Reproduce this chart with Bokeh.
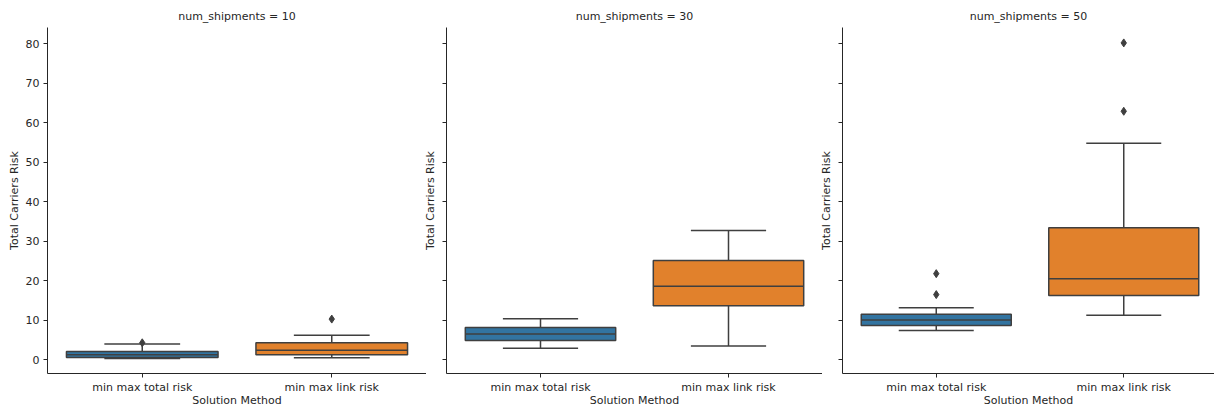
from bokeh.plotting import figure
from bokeh.layouts import row
from bokeh.models import Range1d, FixedTicker, ColumnDataSource, CustomLabelingPolicy
from bokeh.embed import file_html
from bokeh.resources import INLINE

# ---- data ----
methods = ["min max total risk", "min max link risk"]
shipments = [10, 30, 50]

q1_total = [0.6, 4.9, 8.7]
med_total = [1.3, 6.5, 10.1]
q3_total = [2.1, 8.2, 11.5]
lo_total = [0.35, 2.9, 7.4]
hi_total = [4.0, 10.4, 13.2]
out_total = [[4.3], [], [16.5, 21.8]]

q1_link = [1.3, 13.7, 16.3]
med_link = [2.4, 18.6, 20.5]
q3_link = [4.3, 25.1, 33.4]
lo_link = [0.5, 3.5, 11.3]
hi_link = [6.2, 32.7, 54.8]
out_link = [[10.3], [], [62.9, 80.2]]

y_ticks = [0, 10, 20, 30, 40, 50, 60, 70, 80]

# ---- style ----
FONT = "DejaVu Sans"
FS = "11px"
TEXT = "#262626"
LINE = "#3f3f3f"
COLORS = ["#3274a1", "#e1812c"]

widths = [426, 402, 398]
border_left = [47, 22, 22]
margins = [(0, -6, 0, 0), (0, -6, 0, 0), (0, 0, 0, 0)]
x_max = [1.5, 1.5, 1.484]

y_range = Range1d(-3.47, 84.1)

figs = []
for i, s in enumerate(shipments):
    p = figure(width=widths[i], height=409,
               x_range=Range1d(-0.5, x_max[i]), y_range=y_range,
               output_backend="svg", toolbar_location=None,
               min_border_left=border_left[i], min_border_right=0,
               min_border_top=27, min_border_bottom=36,
               title=f"num_shipments = {s}", margin=margins[i])
    p.outline_line_color = None
    p.grid.visible = False
    p.background_fill_color = "white"
    p.border_fill_color = "white" if i == 0 else None

    p.title.align = "center"
    p.title.text_font = FONT
    p.title.text_font_size = FS
    p.title.text_font_style = "normal"
    p.title.text_color = TEXT
    p.title.standoff = 9

    p.xaxis.ticker = FixedTicker(ticks=[0, 1])
    p.xaxis.major_label_overrides = {0: methods[0], 1: methods[1]}
    p.xaxis.axis_label = "Solution Method"
    p.yaxis.ticker = FixedTicker(ticks=y_ticks)
    p.yaxis.axis_label = "Total Carriers Risk"

    for ax in (p.xaxis[0], p.yaxis[0]):
        ax.axis_line_color = TEXT
        ax.axis_line_width = 1
        ax.major_tick_line_color = TEXT
        ax.major_tick_out = 4
        ax.major_tick_in = 0
        ax.minor_tick_line_color = None
        ax.major_label_text_font = FONT
        ax.major_label_text_font_size = FS
        ax.major_label_text_color = TEXT
        ax.axis_label_text_font = FONT
        ax.axis_label_text_font_size = FS
        ax.axis_label_text_font_style = "normal"
        ax.axis_label_text_color = TEXT
    p.xaxis.major_label_standoff = 3
    p.xaxis.axis_label_standoff = -3
    if i == 0:
        p.yaxis.major_label_standoff = 4
        p.yaxis.axis_label_standoff = 2
    else:
        p.yaxis.major_label_policy = CustomLabelingPolicy(
            code="for (const k of Array.from(indices)) { indices.unset(k) }\nreturn indices")
        p.yaxis.major_label_standoff = 0
        p.yaxis.axis_label_standoff = -11

    xs = [0, 1]
    src = ColumnDataSource(dict(
        x=xs,
        q1=[q1_total[i], q1_link[i]],
        med=[med_total[i], med_link[i]],
        q3=[q3_total[i], q3_link[i]],
        lo=[lo_total[i], lo_link[i]],
        hi=[hi_total[i], hi_link[i]],
        xl=[x - 0.4 for x in xs],
        xr=[x + 0.4 for x in xs],
        cl=[x - 0.2 for x in xs],
        cr=[x + 0.2 for x in xs],
        color=COLORS,
    ))
    # whiskers
    p.segment(x0="x", x1="x", y0="q3", y1="hi", source=src, line_color=LINE, line_width=1.5)
    p.segment(x0="x", x1="x", y0="q1", y1="lo", source=src, line_color=LINE, line_width=1.5)
    # boxes
    p.vbar(x="x", width=0.8, bottom="q1", top="q3", source=src,
           fill_color="color", line_color=LINE, line_width=1.5)
    # medians
    p.segment(x0="xl", x1="xr", y0="med", y1="med", source=src, line_color=LINE, line_width=1.5)
    # caps
    p.segment(x0="cl", x1="cr", y0="hi", y1="hi", source=src, line_color=LINE, line_width=1.5)
    p.segment(x0="cl", x1="cr", y0="lo", y1="lo", source=src, line_color=LINE, line_width=1.5)
    # outliers
    ox = [0] * len(out_total[i]) + [1] * len(out_link[i])
    oy = list(out_total[i]) + list(out_link[i])
    if ox:
        p.scatter(x=ox, y=oy, marker="diamond", size=8,
                  fill_color=LINE, line_color=LINE, line_width=1)
    figs.append(p)

layout = row(*figs, spacing=0)
open("out.html", "w").write(file_html(layout, INLINE))
